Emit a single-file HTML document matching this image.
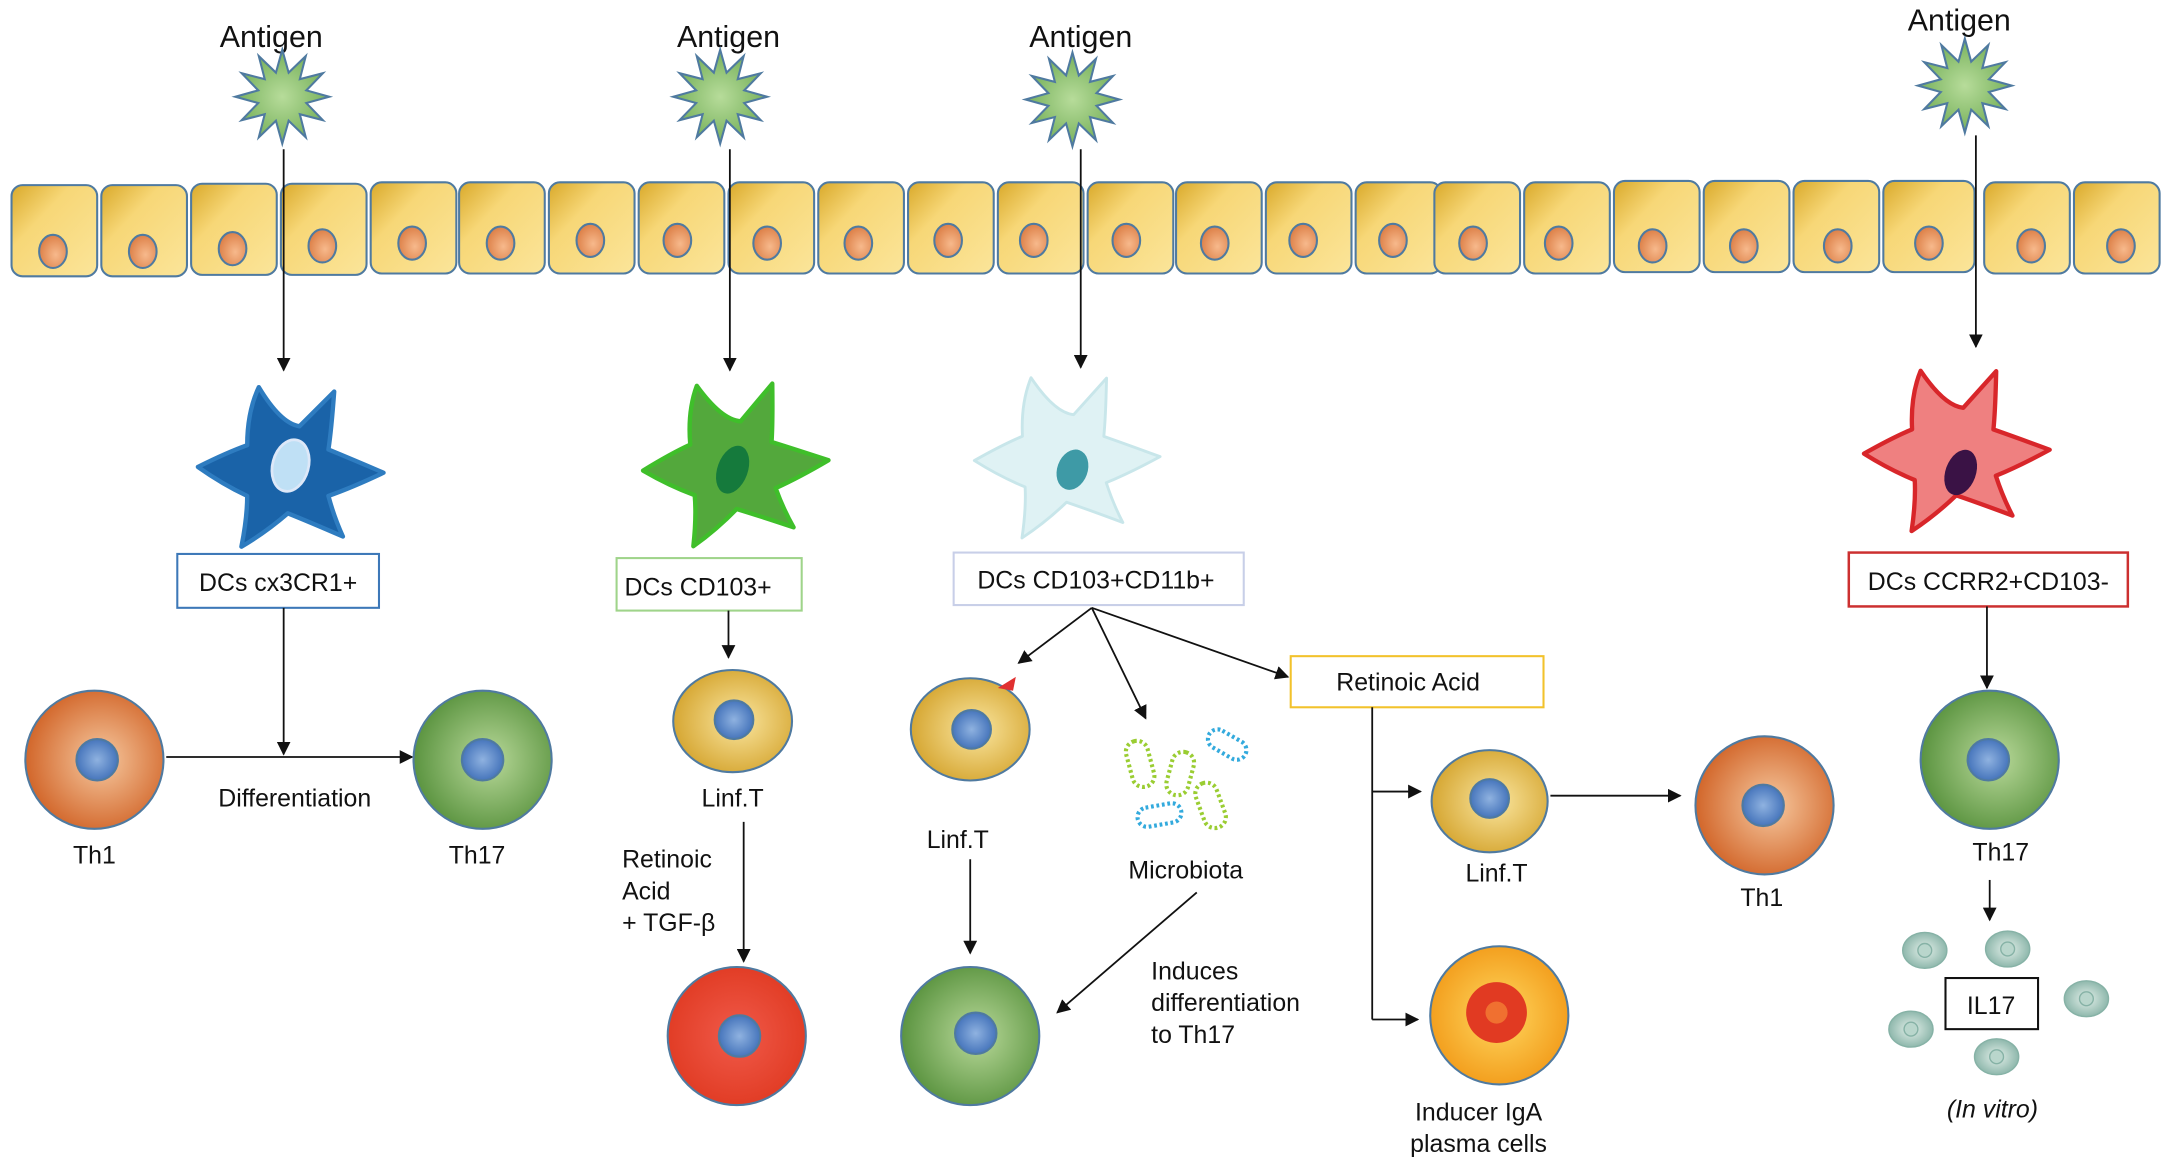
<!DOCTYPE html>
<html><head><meta charset="utf-8"><style>
html,body{margin:0;padding:0;background:#fff;}
svg{display:block;}
text{font-family:"Liberation Sans",Arial,sans-serif;fill:#111;}
</style></head><body>
<svg width="2167" height="1159" viewBox="0 0 1568 839" xmlns="http://www.w3.org/2000/svg">
<defs>
<linearGradient id="epi" x1="0" y1="0" x2="1" y2="1"><stop offset="0" stop-color="#d9a92a"/><stop offset="0.35" stop-color="#f7d777"/><stop offset="1" stop-color="#fbe59a"/></linearGradient>
<radialGradient id="nuc" cx="0.6" cy="0.6" r="0.7"><stop offset="0" stop-color="#f7b98c"/><stop offset="1" stop-color="#d9783e"/></radialGradient>
<radialGradient id="ag" cx="0.5" cy="0.5" r="0.6"><stop offset="0" stop-color="#b7dc9a"/><stop offset="1" stop-color="#6aa84f"/></radialGradient>
<radialGradient id="orange" cx="0.55" cy="0.5" r="0.55"><stop offset="0" stop-color="#f6c9a0"/><stop offset="1" stop-color="#d2662a"/></radialGradient>
<radialGradient id="green" cx="0.55" cy="0.5" r="0.55"><stop offset="0" stop-color="#b9d99a"/><stop offset="1" stop-color="#5b9440"/></radialGradient>
<radialGradient id="yellow" cx="0.55" cy="0.5" r="0.55"><stop offset="0" stop-color="#fae6a0"/><stop offset="1" stop-color="#d6a733"/></radialGradient>
<radialGradient id="red" cx="0.5" cy="0.5" r="0.55"><stop offset="0" stop-color="#f05a4a"/><stop offset="1" stop-color="#e03a22"/></radialGradient>
<radialGradient id="iga" cx="0.5" cy="0.5" r="0.55"><stop offset="0" stop-color="#ffd860"/><stop offset="1" stop-color="#f29a18"/></radialGradient>
<radialGradient id="bn" cx="0.5" cy="0.5" r="0.55"><stop offset="0" stop-color="#8fb2e0"/><stop offset="1" stop-color="#3f6fb8"/></radialGradient>
<radialGradient id="ves" cx="0.5" cy="0.5" r="0.55"><stop offset="0" stop-color="#e4f0ea"/><stop offset="1" stop-color="#86b2a6"/></radialGradient>
<marker id="ah" markerWidth="10" markerHeight="10" refX="9" refY="5" orient="auto" markerUnits="userSpaceOnUse"><path d="M0,0 L10,5 L0,10 Z" fill="#111"/></marker>
<polygon id="star" points="0,-34 4.6,-17.4 17,-29.4 12.7,-12.7 29.4,-17 17.4,-4.6 34,0 17.4,4.6 29.4,17 12.7,12.7 17,29.4 4.6,17.4 0,34 -4.6,17.4 -17,29.4 -12.7,12.7 -29.4,17 -17.4,4.6 -34,0 -17.4,-4.6 -29.4,-17 -12.7,-12.7 -17,-29.4 -4.6,-17.4" fill="url(#ag)" stroke="#4f7aa0" stroke-width="1.5"/>
<path id="dc" d="M -20,-55 Q -5,-30 8,-28 Q 20,-40 32,-52 Q 30,-25 28,-12 Q 45,-5 66,4 Q 45,14 28,20 Q 32,35 38,48 Q 15,38 0,32 Q -15,45 -32,55 Q -28,35 -28,20 Q -45,12 -62,0 Q -42,-10 -28,-15 Q -28,-38 -20,-55 Z"/>
</defs>

<text x="196" y="34" font-size="22" text-anchor="middle">Antigen</text>
<text x="527" y="34" font-size="22" text-anchor="middle">Antigen</text>
<text x="782" y="34" font-size="22" text-anchor="middle">Antigen</text>
<text x="1418" y="22" font-size="22" text-anchor="middle">Antigen</text>
<use href="#star" x="204" y="70"/>
<use href="#star" x="521" y="70"/>
<use href="#star" x="776" y="72"/>
<use href="#star" x="1422" y="62"/>

<g stroke="#4f7aa0" stroke-width="1.5">
<rect x="8" y="134" width="62" height="66" rx="8" fill="url(#epi)"/><ellipse cx="38" cy="182" rx="10" ry="12" fill="url(#nuc)"/>
<rect x="73" y="134" width="62" height="66" rx="8" fill="url(#epi)"/><ellipse cx="103" cy="182" rx="10" ry="12" fill="url(#nuc)"/>
<rect x="138" y="133" width="62" height="66" rx="8" fill="url(#epi)"/><ellipse cx="168" cy="180" rx="10" ry="12" fill="url(#nuc)"/>
<rect x="203" y="133" width="62" height="66" rx="8" fill="url(#epi)"/><ellipse cx="233" cy="178" rx="10" ry="12" fill="url(#nuc)"/>
<rect x="268" y="132" width="62" height="66" rx="8" fill="url(#epi)"/><ellipse cx="298" cy="176" rx="10" ry="12" fill="url(#nuc)"/>
<rect x="332" y="132" width="62" height="66" rx="8" fill="url(#epi)"/><ellipse cx="362" cy="176" rx="10" ry="12" fill="url(#nuc)"/>
<rect x="397" y="132" width="62" height="66" rx="8" fill="url(#epi)"/><ellipse cx="427" cy="174" rx="10" ry="12" fill="url(#nuc)"/>
<rect x="462" y="132" width="62" height="66" rx="8" fill="url(#epi)"/><ellipse cx="490" cy="174" rx="10" ry="12" fill="url(#nuc)"/>
<rect x="527" y="132" width="62" height="66" rx="8" fill="url(#epi)"/><ellipse cx="555" cy="176" rx="10" ry="12" fill="url(#nuc)"/>
<rect x="592" y="132" width="62" height="66" rx="8" fill="url(#epi)"/><ellipse cx="621" cy="176" rx="10" ry="12" fill="url(#nuc)"/>
<rect x="657" y="132" width="62" height="66" rx="8" fill="url(#epi)"/><ellipse cx="686" cy="174" rx="10" ry="12" fill="url(#nuc)"/>
<rect x="722" y="132" width="62" height="66" rx="8" fill="url(#epi)"/><ellipse cx="748" cy="174" rx="10" ry="12" fill="url(#nuc)"/>
<rect x="787" y="132" width="62" height="66" rx="8" fill="url(#epi)"/><ellipse cx="815" cy="174" rx="10" ry="12" fill="url(#nuc)"/>
<rect x="851" y="132" width="62" height="66" rx="8" fill="url(#epi)"/><ellipse cx="879" cy="176" rx="10" ry="12" fill="url(#nuc)"/>
<rect x="916" y="132" width="62" height="66" rx="8" fill="url(#epi)"/><ellipse cx="943" cy="174" rx="10" ry="12" fill="url(#nuc)"/>
<rect x="981" y="132" width="62" height="66" rx="8" fill="url(#epi)"/><ellipse cx="1008" cy="174" rx="10" ry="12" fill="url(#nuc)"/>
<rect x="1038" y="132" width="62" height="66" rx="8" fill="url(#epi)"/><ellipse cx="1066" cy="176" rx="10" ry="12" fill="url(#nuc)"/>
<rect x="1103" y="132" width="62" height="66" rx="8" fill="url(#epi)"/><ellipse cx="1128" cy="176" rx="10" ry="12" fill="url(#nuc)"/>
<rect x="1168" y="131" width="62" height="66" rx="8" fill="url(#epi)"/><ellipse cx="1196" cy="178" rx="10" ry="12" fill="url(#nuc)"/>
<rect x="1233" y="131" width="62" height="66" rx="8" fill="url(#epi)"/><ellipse cx="1262" cy="178" rx="10" ry="12" fill="url(#nuc)"/>
<rect x="1298" y="131" width="62" height="66" rx="8" fill="url(#epi)"/><ellipse cx="1330" cy="178" rx="10" ry="12" fill="url(#nuc)"/>
<rect x="1363" y="131" width="66" height="66" rx="8" fill="url(#epi)"/><ellipse cx="1396" cy="176" rx="10" ry="12" fill="url(#nuc)"/>
<rect x="1436" y="132" width="62" height="66" rx="8" fill="url(#epi)"/><ellipse cx="1470" cy="178" rx="10" ry="12" fill="url(#nuc)"/>
<rect x="1501" y="132" width="62" height="66" rx="8" fill="url(#epi)"/><ellipse cx="1535" cy="178" rx="10" ry="12" fill="url(#nuc)"/>
</g>

<g stroke="#111" stroke-width="1.3" fill="none" marker-end="url(#ah)">
<line x1="205" y1="108" x2="205" y2="268"/>
<line x1="528" y1="108" x2="528" y2="268"/>
<line x1="782" y1="108" x2="782" y2="266"/>
<line x1="1430" y1="98" x2="1430" y2="251"/>
</g>

<g stroke-linejoin="round">
<use href="#dc" transform="translate(208,338) scale(1.05)" fill="#1a63a8" stroke="#2e7cc0" stroke-width="3"/>
<ellipse cx="210" cy="337" rx="13" ry="19" transform="rotate(15 210 337)" fill="#bfe0f5" stroke="#dde8f8" stroke-width="2"/>
<use href="#dc" transform="translate(530,335) scale(1.05) rotate(-5)" fill="#53a83c" stroke="#3fbf2a" stroke-width="3"/>
<ellipse cx="530" cy="340" rx="11" ry="18" transform="rotate(20 530 340)" fill="#157a3c"/>
<use href="#dc" transform="translate(770,330) scale(1.05) rotate(-3)" fill="#dff2f4" stroke="#c8e6ea" stroke-width="2"/>
<ellipse cx="776" cy="340" rx="11" ry="15" transform="rotate(20 776 340)" fill="#3e9aa6"/>
<use href="#dc" transform="translate(1414,325) scale(1.05) rotate(-3)" fill="#ef8080" stroke="#d8262a" stroke-width="3"/>
<ellipse cx="1419" cy="342" rx="11" ry="17" transform="rotate(20 1419 342)" fill="#3a1245"/>
</g>

<rect x="128" y="401" width="146" height="39" fill="#fff" stroke="#3d78b8" stroke-width="1.5"/>
<text x="201" y="428" font-size="18" text-anchor="middle">DCs cx3CR1+</text>
<rect x="446" y="404" width="134" height="38" fill="#fff" stroke="#9fd48a" stroke-width="1.5"/>
<text x="505" y="431" font-size="18" text-anchor="middle">DCs CD103+</text>
<rect x="690" y="400" width="210" height="38" fill="#fff" stroke="#c8cfe8" stroke-width="1.5"/>
<text x="793" y="426" font-size="18" text-anchor="middle">DCs CD103+CD11b+</text>
<rect x="934" y="475" width="183" height="37" fill="#fff" stroke="#f2c22c" stroke-width="1.5"/>
<text x="1019" y="500" font-size="18" text-anchor="middle">Retinoic Acid</text>
<rect x="1338" y="400" width="202" height="39" fill="#fff" stroke="#cc3030" stroke-width="1.8"/>
<text x="1439" y="427" font-size="18" text-anchor="middle">DCs CCRR2+CD103-</text>

<g stroke="#111" stroke-width="1.3" fill="none">
<line x1="205" y1="440" x2="205" y2="546" marker-end="url(#ah)"/>
<line x1="120" y1="548" x2="298" y2="548" marker-end="url(#ah)"/>
<line x1="527" y1="442" x2="527" y2="476" marker-end="url(#ah)"/>
<line x1="538" y1="595" x2="538" y2="696" marker-end="url(#ah)"/>
<line x1="790" y1="440" x2="737" y2="480" marker-end="url(#ah)"/>
<line x1="790" y1="440" x2="829" y2="520" marker-end="url(#ah)"/>
<line x1="790" y1="440" x2="932" y2="490" marker-end="url(#ah)"/>
<line x1="702" y1="622" x2="702" y2="690" marker-end="url(#ah)"/>
<line x1="866" y1="646" x2="765" y2="733" marker-end="url(#ah)"/>
<polyline points="993,512 993,738"/>
<line x1="993" y1="573" x2="1028" y2="573" marker-end="url(#ah)"/>
<line x1="993" y1="738" x2="1026" y2="738" marker-end="url(#ah)"/>
<line x1="1122" y1="576" x2="1216" y2="576" marker-end="url(#ah)"/>
<line x1="1438" y1="439" x2="1438" y2="498" marker-end="url(#ah)"/>
<line x1="1440" y1="637" x2="1440" y2="666" marker-end="url(#ah)"/>
</g>

<g stroke="#4f7aa0" stroke-width="1.5">
<circle cx="68" cy="550" r="50" fill="url(#orange)"/><circle cx="70" cy="550" r="15" fill="url(#bn)"/>
<circle cx="349" cy="550" r="50" fill="url(#green)"/><circle cx="349" cy="550" r="15" fill="url(#bn)"/>
<ellipse cx="530" cy="522" rx="43" ry="37" fill="url(#yellow)"/><circle cx="531" cy="521" r="14" fill="url(#bn)"/>
<circle cx="533" cy="750" r="50" fill="url(#red)"/><circle cx="535" cy="750" r="15" fill="url(#bn)"/>
<ellipse cx="702" cy="528" rx="43" ry="37" fill="url(#yellow)"/><circle cx="703" cy="528" r="14" fill="url(#bn)"/>
<circle cx="702" cy="750" r="50" fill="url(#green)"/><circle cx="706" cy="748" r="15" fill="url(#bn)"/>
<ellipse cx="1078" cy="580" rx="42" ry="37" fill="url(#yellow)"/><circle cx="1078" cy="578" r="14" fill="url(#bn)"/>
<circle cx="1277" cy="583" r="50" fill="url(#orange)"/><circle cx="1276" cy="583" r="15" fill="url(#bn)"/>
<circle cx="1085" cy="735" r="50" fill="url(#iga)"/><circle cx="1083" cy="733" r="22" fill="#e13a22" stroke="none"/><circle cx="1083" cy="733" r="8" fill="#f07030" stroke="none"/>
<circle cx="1440" cy="550" r="50" fill="url(#green)"/><circle cx="1439" cy="550" r="15" fill="url(#bn)"/>
</g>
<path d="M722,498 L735,490 L733,500 Z" fill="#e03030"/>

<g fill="none" stroke-width="3" stroke-dasharray="2 2">
<rect x="817" y="536" width="16" height="34" rx="8" transform="rotate(-15 825 553)" stroke="#9acd32"/>
<rect x="846" y="544" width="16" height="32" rx="8" transform="rotate(15 854 560)" stroke="#9acd32"/>
<rect x="868" y="566" width="16" height="34" rx="8" transform="rotate(-20 876 583)" stroke="#9acd32"/>
<rect x="873" y="532" width="30" height="14" rx="7" transform="rotate(30 888 539)" stroke="#33aadd"/>
<rect x="823" y="583" width="32" height="14" rx="7" transform="rotate(-10 839 590)" stroke="#33aadd"/>
</g>

<g fill="url(#ves)" stroke="#86b2a6" stroke-width="1">
<ellipse cx="1393" cy="688" rx="16" ry="13"/><circle cx="1393" cy="688" r="5" fill="#b9d6cc"/>
<ellipse cx="1453" cy="687" rx="16" ry="13"/><circle cx="1453" cy="687" r="5" fill="#b9d6cc"/>
<ellipse cx="1383" cy="745" rx="16" ry="13"/><circle cx="1383" cy="745" r="5" fill="#b9d6cc"/>
<ellipse cx="1510" cy="723" rx="16" ry="13"/><circle cx="1510" cy="723" r="5" fill="#b9d6cc"/>
<ellipse cx="1445" cy="765" rx="16" ry="13"/><circle cx="1445" cy="765" r="5" fill="#b9d6cc"/>
</g>
<rect x="1408" y="708" width="67" height="37" fill="#fff" stroke="#111" stroke-width="1.5"/>
<text x="1441" y="734" font-size="18" text-anchor="middle">IL17</text>

<g font-size="18">
<text x="68" y="625" text-anchor="middle">Th1</text>
<text x="345" y="625" text-anchor="middle">Th17</text>
<text x="213" y="584" text-anchor="middle">Differentiation</text>
<text x="530" y="584" text-anchor="middle">Linf.T</text>
<text x="450" y="628">Retinoic</text>
<text x="450" y="651">Acid</text>
<text x="450" y="674">+ TGF-β</text>
<text x="693" y="614" text-anchor="middle">Linf.T</text>
<text x="858" y="636" text-anchor="middle">Microbiota</text>
<text x="833" y="709">Induces</text>
<text x="833" y="732">differentiation</text>
<text x="833" y="755">to Th17</text>
<text x="1083" y="638" text-anchor="middle">Linf.T</text>
<text x="1275" y="656" text-anchor="middle">Th1</text>
<text x="1070" y="811" text-anchor="middle">Inducer IgA</text>
<text x="1070" y="834" text-anchor="middle">plasma cells</text>
<text x="1448" y="623" text-anchor="middle">Th17</text>
<text x="1442" y="809" text-anchor="middle" font-style="italic">(In vitro)</text>
</g>
</svg>
</body></html>
